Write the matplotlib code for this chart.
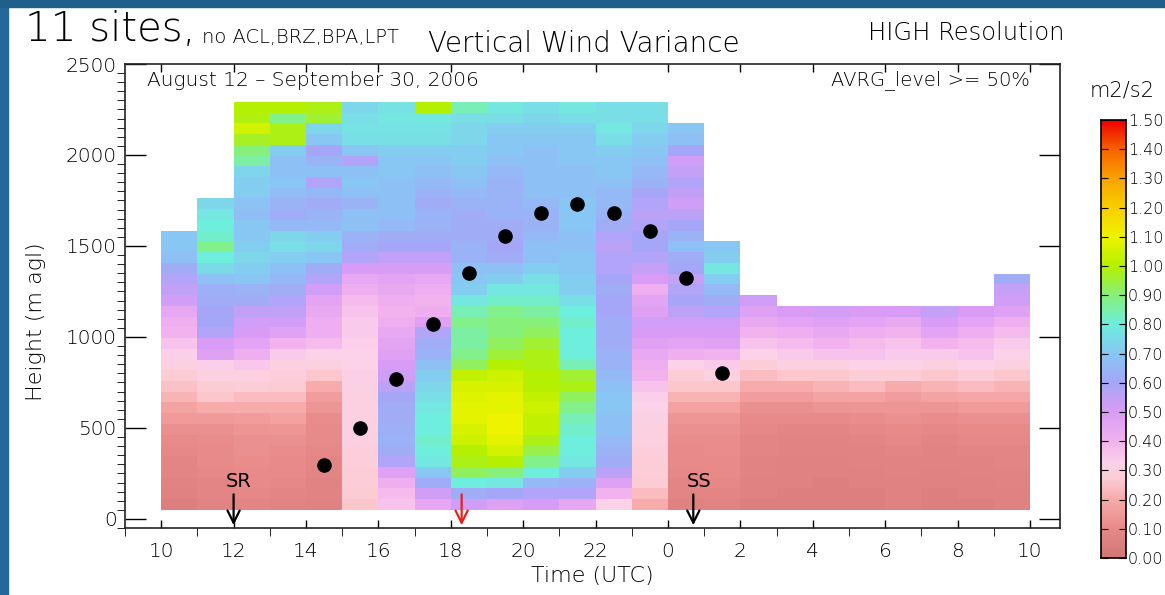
import numpy as np
import matplotlib.pyplot as plt
from matplotlib.colors import LinearSegmentedColormap
from matplotlib.patches import Rectangle

# hourly vertical-velocity variance profiles (m2/s2), lowest gate first
v10 = [0.05, 0.06, 0.07, 0.08, 0.08, 0.09, 0.10, 0.12, 0.15, 0.18, 0.22, 0.25, 0.27,
       0.30, 0.33, 0.36, 0.40, 0.42, 0.45, 0.52, 0.55, 0.58, 0.62, 0.68, 0.70, 0.70]
v11 = [0.07, 0.08, 0.08, 0.09, 0.10, 0.10, 0.11, 0.12, 0.15, 0.20, 0.26, 0.27, 0.30,
       0.33, 0.48, 0.50, 0.58, 0.60, 0.60, 0.62, 0.63, 0.68, 0.75, 0.80, 0.88, 0.82,
       0.80, 0.78, 0.74]
v12 = [0.08, 0.09, 0.10, 0.10, 0.11, 0.12, 0.12, 0.13, 0.16, 0.20, 0.24, 0.28, 0.30,
       0.35, 0.42, 0.46, 0.50, 0.52, 0.55, 0.62, 0.64, 0.70, 0.72, 0.74, 0.72, 0.70,
       0.70, 0.67, 0.69, 0.72, 0.72, 0.74, 0.86, 0.90, 0.97, 1.05, 0.99, 1.00]
v13 = [0.07, 0.08, 0.09, 0.10, 0.10, 0.11, 0.12, 0.14, 0.17, 0.20, 0.24, 0.27, 0.29,
       0.30, 0.34, 0.40, 0.47, 0.52, 0.55, 0.58, 0.62, 0.66, 0.68, 0.72, 0.76, 0.74,
       0.66, 0.62, 0.64, 0.67, 0.70, 0.68, 0.68, 0.72, 0.98, 0.98, 0.88, 1.00]
v14 = [0.06, 0.07, 0.07, 0.08, 0.08, 0.09, 0.10, 0.10, 0.11, 0.13, 0.16, 0.20, 0.26,
       0.30, 0.32, 0.38, 0.42, 0.42, 0.44, 0.46, 0.52, 0.58, 0.62, 0.70, 0.74, 0.72,
       0.66, 0.64, 0.62, 0.66, 0.58, 0.68, 0.64, 0.60, 0.70, 0.74, 0.96, 0.98]
v15 = [0.26, 0.27, 0.28, 0.28, 0.29, 0.29, 0.30, 0.30, 0.30, 0.30, 0.30, 0.31, 0.31,
       0.32, 0.32, 0.33, 0.34, 0.34, 0.36, 0.38, 0.42, 0.45, 0.50, 0.58, 0.62, 0.64,
       0.68, 0.68, 0.64, 0.68, 0.70, 0.68, 0.58, 0.70, 0.76, 0.77, 0.76, 0.74]
v16 = [0.36, 0.38, 0.42, 0.48, 0.58, 0.62, 0.64, 0.63, 0.62, 0.62, 0.60, 0.56, 0.52,
       0.50, 0.48, 0.46, 0.44, 0.42, 0.40, 0.42, 0.44, 0.46, 0.50, 0.55, 0.60, 0.62,
       0.66, 0.68, 0.68, 0.68, 0.68, 0.70, 0.70, 0.72, 0.76, 0.77, 0.78, 0.77]
v17 = [0.45, 0.52, 0.62, 0.70, 0.78, 0.80, 0.82, 0.80, 0.80, 0.78, 0.76, 0.74, 0.72,
       0.68, 0.64, 0.62, 0.58, 0.48, 0.42, 0.40, 0.42, 0.45, 0.50, 0.55, 0.60, 0.62,
       0.64, 0.64, 0.62, 0.64, 0.66, 0.68, 0.70, 0.72, 0.76, 0.77, 0.78, 1.00]
v18 = [0.52, 0.62, 0.80, 0.92, 0.98, 1.00, 1.04, 1.06, 1.08, 1.08, 1.07, 1.06, 1.02,
       0.92, 0.88, 0.86, 0.86, 0.88, 0.84, 0.78, 0.72, 0.70, 0.68, 0.64, 0.64, 0.62,
       0.62, 0.62, 0.64, 0.66, 0.68, 0.70, 0.72, 0.72, 0.74, 0.74, 0.76, 0.84]
v19 = [0.48, 0.60, 0.78, 0.90, 1.00, 1.05, 1.08, 1.10, 1.10, 1.08, 1.08, 1.06, 1.04,
       1.00, 0.95, 0.92, 0.90, 0.90, 0.88, 0.82, 0.78, 0.72, 0.68, 0.62, 0.60, 0.62,
       0.62, 0.64, 0.64, 0.64, 0.64, 0.66, 0.68, 0.70, 0.70, 0.72, 0.76, 0.78]
v20 = [0.50, 0.58, 0.66, 0.80, 0.88, 0.94, 0.98, 1.02, 1.02, 1.04, 1.02, 1.00, 1.00,
       0.98, 0.98, 0.96, 0.92, 0.90, 0.86, 0.82, 0.78, 0.76, 0.72, 0.68, 0.68, 0.66,
       0.64, 0.64, 0.66, 0.68, 0.68, 0.68, 0.68, 0.68, 0.70, 0.72, 0.74, 0.76]
v21 = [0.45, 0.58, 0.64, 0.72, 0.78, 0.80, 0.80, 0.82, 0.84, 0.88, 0.92, 0.98, 0.96,
       0.84, 0.80, 0.80, 0.80, 0.82, 0.80, 0.76, 0.72, 0.72, 0.70, 0.70, 0.68, 0.68,
       0.70, 0.70, 0.70, 0.68, 0.68, 0.68, 0.70, 0.70, 0.70, 0.72, 0.76, 0.78]
v22 = [0.32, 0.40, 0.48, 0.56, 0.62, 0.64, 0.66, 0.68, 0.68, 0.70, 0.70, 0.68, 0.66,
       0.64, 0.64, 0.62, 0.62, 0.62, 0.60, 0.60, 0.62, 0.60, 0.58, 0.58, 0.56, 0.58,
       0.62, 0.64, 0.66, 0.66, 0.68, 0.70, 0.70, 0.72, 0.76, 0.78, 0.76, 0.76]
v23 = [0.20, 0.24, 0.27, 0.28, 0.28, 0.29, 0.30, 0.30, 0.31, 0.32, 0.33, 0.36, 0.40,
       0.42, 0.44, 0.48, 0.50, 0.52, 0.48, 0.46, 0.42, 0.50, 0.54, 0.58, 0.60, 0.60,
       0.58, 0.56, 0.58, 0.60, 0.64, 0.66, 0.68, 0.70, 0.72, 0.74, 0.76, 0.76]
v00 = [0.06, 0.08, 0.08, 0.09, 0.10, 0.10, 0.11, 0.12, 0.14, 0.17, 0.22, 0.26, 0.28,
       0.32, 0.42, 0.46, 0.50, 0.52, 0.56, 0.60, 0.58, 0.54, 0.60, 0.62, 0.68, 0.64,
       0.60, 0.56, 0.52, 0.55, 0.58, 0.54, 0.52, 0.60, 0.68, 0.70]
v01 = [0.07, 0.08, 0.09, 0.10, 0.10, 0.11, 0.11, 0.12, 0.14, 0.17, 0.22, 0.26, 0.30,
       0.34, 0.40, 0.48, 0.50, 0.52, 0.58, 0.62, 0.66, 0.72, 0.78, 0.72, 0.70]
v02 = [0.05, 0.06, 0.06, 0.07, 0.07, 0.08, 0.08, 0.09, 0.10, 0.12, 0.16, 0.20, 0.24,
       0.28, 0.32, 0.36, 0.40, 0.44, 0.48, 0.52]
v03 = [0.05, 0.05, 0.06, 0.06, 0.06, 0.07, 0.07, 0.08, 0.10, 0.12, 0.16, 0.20, 0.26,
       0.30, 0.34, 0.38, 0.42, 0.46, 0.50]
v04 = [0.05, 0.05, 0.05, 0.06, 0.06, 0.07, 0.07, 0.08, 0.10, 0.13, 0.18, 0.22, 0.26,
       0.30, 0.36, 0.40, 0.44, 0.48, 0.52]
v05 = [0.05, 0.05, 0.06, 0.06, 0.07, 0.07, 0.08, 0.09, 0.11, 0.14, 0.18, 0.24, 0.28,
       0.32, 0.36, 0.38, 0.42, 0.46, 0.50]
v06 = [0.06, 0.06, 0.06, 0.07, 0.07, 0.08, 0.09, 0.10, 0.12, 0.14, 0.16, 0.20, 0.28,
       0.32, 0.34, 0.36, 0.40, 0.44, 0.50]
v07 = [0.05, 0.05, 0.06, 0.06, 0.07, 0.07, 0.08, 0.09, 0.11, 0.14, 0.18, 0.22, 0.26,
       0.30, 0.34, 0.40, 0.46, 0.50, 0.54]
v08 = [0.05, 0.06, 0.06, 0.07, 0.07, 0.08, 0.09, 0.10, 0.12, 0.15, 0.19, 0.24, 0.28,
       0.32, 0.36, 0.38, 0.42, 0.46, 0.50]
v09 = [0.06, 0.06, 0.07, 0.07, 0.08, 0.08, 0.09, 0.10, 0.12, 0.15, 0.19, 0.22, 0.26,
       0.30, 0.32, 0.34, 0.38, 0.42, 0.48, 0.52, 0.54, 0.62]

profiles = [v10, v11, v12, v13, v14, v15, v16, v17, v18, v19, v20, v21, v22, v23,
            v00, v01, v02, v03, v04, v05, v06, v07, v08, v09]
hour_start = 10          # first profile 10-11 UTC, hours past 24 are the next day
gate_bottom = 50         # m agl
gate_size = 59           # m

# boundary layer depth markers
dot_hours = [14.5, 15.5, 16.5, 17.5, 18.5, 19.5, 20.5, 21.5, 22.5, 23.5, 24.5, 25.5]
dot_heights = [297, 500, 770, 1072, 1353, 1556, 1683, 1732, 1683, 1584, 1325, 803]

sunrise = 12.0
solar_noon = 18.3
sunset = 24.7

xticks = list(range(10, 35, 2))
xlabels = [str(h % 24) for h in xticks]
cbar_ticks = [i / 10 for i in range(16)]

colors = [(0.00, '#d27676'), (0.10, '#e98a8a'), (0.20, '#f7abab'), (0.27, '#fcccd4'),
          (0.32, '#fcd2ea'), (0.40, '#f2b2ee'), (0.50, '#d99cf6'), (0.60, '#a6a6f8'),
          (0.70, '#88c6f4'), (0.80, '#6eeedc'), (0.90, '#86f07a'), (1.00, '#b4f000'),
          (1.10, '#eef400'), (1.20, '#f8d000'), (1.30, '#f8a400'), (1.40, '#f86400'),
          (1.50, '#f00000')]
cmap = LinearSegmentedColormap.from_list('wvar', [(v / 1.5, c) for v, c in colors])

nrows = max(len(p) for p in profiles)
grid = np.full((nrows, len(profiles)), np.nan)
for j, p in enumerate(profiles):
    grid[:len(p), j] = p
x_edges = np.arange(hour_start, hour_start + len(profiles) + 1)
y_edges = gate_bottom + gate_size * np.arange(nrows + 1)

# thin strokes for every label
plt.rcParams['font.weight'] = 'light'
plt.rcParams['axes.labelweight'] = 'light'
fig = plt.figure(figsize=(11.65, 5.95), dpi=100)
W, H = 1165, 595
ink = 'black'

ax = fig.add_axes([125 / W, 1 - 528 / H, 935 / W, 464 / H])
ax.pcolormesh(x_edges, y_edges, np.ma.masked_invalid(grid), cmap=cmap,
              vmin=0, vmax=1.5, shading='flat')
ax.plot(dot_hours, dot_heights, 'o', color='black', ms=9.5)

ax.set_xlim(9, 34.83)
ax.set_ylim(-50, 2500)
ax.set_xticks(xticks)
ax.set_xticklabels(xlabels)
ax.set_xticks(range(9, 35), minor=True)
ax.set_yticks(range(0, 2501, 500))
ax.set_yticks(range(-50, 2501, 50), minor=True)
ax.tick_params(direction='in', top=True, right=True, labelsize=14.5, width=1,
               colors=ink)
ax.tick_params(axis='x', which='both', length=6, pad=10)
ax.tick_params(axis='y', which='major', length=15, pad=6)
ax.tick_params(axis='y', which='minor', length=6)
for s in ax.spines.values():
    s.set_linewidth(1.2)
    s.set_color('#222222')
ax.set_xlabel('Time (UTC)', fontsize=16, labelpad=4, color=ink)
ax.set_ylabel('Height (m agl)', fontsize=16, color=ink)
ax.yaxis.set_label_coords(-0.084, 0.445)

for hr, lab in [(sunrise, 'SR'), (sunset, 'SS')]:
    ax.annotate('', xy=(hr, -50), xytext=(hr, 150),
                arrowprops=dict(arrowstyle='->', lw=1.6, color='black',
                                mutation_scale=22))
    ax.text(hr + 0.15, 205, lab, ha='center', va='center', fontsize=14,
            fontweight='normal')
ax.annotate('', xy=(solar_noon, -50), xytext=(solar_noon, 150),
            arrowprops=dict(arrowstyle='->', lw=1.6, color='#e8201a', mutation_scale=22))

ax.text(0.024, 0.965, 'August 12 \u2013 September 30, 2006', transform=ax.transAxes,
        fontsize=14.5, va='center', ha='left', color=ink)
ax.text(0.968, 0.965, 'AVRG_level >= 50%', transform=ax.transAxes,
        fontsize=14, va='center', ha='right', color=ink)

# titles across the top
fig.text(25 / W, 1 - 41 / H, '11 sites,', fontsize=29, color=ink)
fig.text(202 / W, 1 - 43 / H, 'no ACL,BRZ,BPA,LPT', fontsize=14, color=ink)
fig.text(428 / W, 1 - 52 / H, 'Vertical Wind Variance', fontsize=20, color=ink)
fig.text(868 / W, 1 - 40 / H, 'HIGH Resolution', fontsize=17.5, color=ink)

# colour bar
cax = fig.add_axes([1101 / W, 1 - 558 / H, 25 / W, 438 / H])
cax.imshow(np.linspace(0, 1.5, 256)[:, None], cmap=cmap, aspect='auto',
           origin='lower', extent=[0, 1, 0, 1.5])
cax.set_xlim(0, 1)
cax.set_ylim(0, 1.5)
cax.set_xticks([])
cax.set_yticks(cbar_ticks)
cax.set_yticklabels(['%.2f' % t for t in cbar_ticks])
cax.yaxis.tick_right()
cax.tick_params(axis='y', direction='in', left=True, right=True, length=5,
                labelsize=11.5, pad=1.5, colors=ink)
for s in cax.spines.values():
    s.set_linewidth(1.2)
fig.text(1090 / W, 1 - 97 / H, 'm2/s2', fontsize=15, color=ink)

# slide frame
fig.patches.append(Rectangle((0, 0), 8 / W, 1, transform=fig.transFigure,
                             color='#24689a', zorder=0))
fig.patches.append(Rectangle((0, 1 - 7 / H), 1, 7 / H, transform=fig.transFigure,
                             color='#1f5f8c', zorder=0))

fig.savefig('out.png', dpi=100)
